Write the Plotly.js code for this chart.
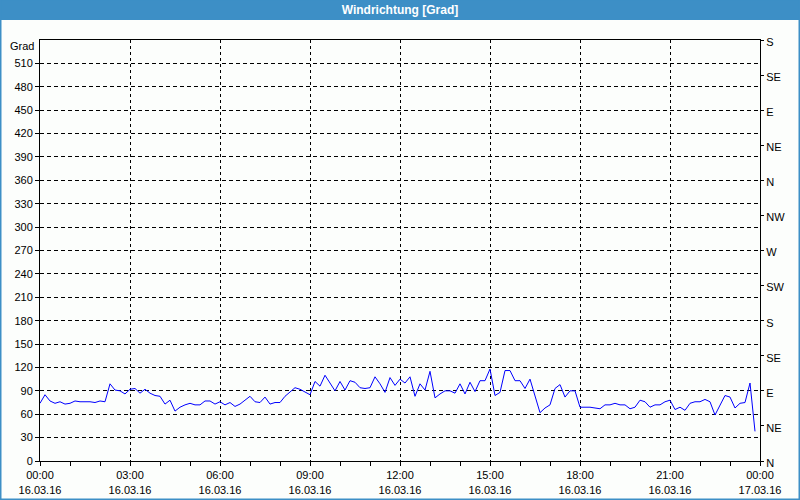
<!DOCTYPE html>
<html>
<head>
<meta charset="utf-8">
<script src="https://cdn.plot.ly/plotly-3.0.1.min.js"></script>
<style>
html,body{margin:0;padding:0;background:#fcfefc;}
#chart{width:800px;height:500px;}
</style>
</head>
<body>
<div id="chart"></div>
<script>
// ---- data ----
const startTime = '2016-03-16T00:00:00';
const stepMinutes = 10;
const windDir = [
  74, 85, 77, 74, 76, 73, 74, 77, 76, 76, 76, 75, 77, 76, 99, 91, 90, 86, 92, 93,
  87, 92, 87, 84, 83, 73, 78, 64, 69, 72, 74, 72, 72, 77, 77, 73, 76, 72, 75, 70,
  73, 78, 83, 76, 75, 82, 73, 75, 75, 83, 88, 94, 92, 89, 85, 102, 96, 110, 100, 90,
  102, 91, 103, 101, 94, 93, 94, 108, 99, 88, 107, 97, 105, 100, 108, 83, 99, 91, 115, 81,
  86, 90, 90, 87, 99, 86, 101, 89, 103, 103, 118, 84, 88, 116, 116, 103, 103, 93, 105, 84,
  62, 68, 72, 93, 98, 82, 90, 90, 69, 69, 69, 68, 67, 72, 72, 74, 72, 72, 67, 69,
  78, 76, 69, 72, 72, 76, 78, 66, 69, 65, 74, 76, 76, 79, 76, 59, 72, 84, 82, 68,
  74, 75, 100, 38
];
const xTickVals = ['2016-03-16 00:00','2016-03-16 03:00','2016-03-16 06:00','2016-03-16 09:00',
  '2016-03-16 12:00','2016-03-16 15:00','2016-03-16 18:00','2016-03-16 21:00','2016-03-17 00:00'];
const xTickText = ['00:00<br>16.03.16','03:00<br>16.03.16','06:00<br>16.03.16','09:00<br>16.03.16',
  '12:00<br>16.03.16','15:00<br>16.03.16','18:00<br>16.03.16','21:00<br>16.03.16','00:00<br>17.03.16'];
const yTickVals = [0,30,60,90,120,150,180,210,240,270,300,330,360,390,420,450,480,510];
const compassVals = [0,45,90,135,180,225,270,315,360,405,450,495,540];
const compassText = ['N','NE','E','SE','S','SW','W','NW','N','NE','E','SE','S'];

// sample times (10-minute sampling grid)
const t0 = new Date(startTime + 'Z').getTime();
const times = windDir.map((_, i) => {
  const d = new Date(t0 + i * stepMinutes * 60000);
  return d.toISOString().slice(0,19).replace('T',' ');
});

const fontFam = '"Liberation Sans", Arial, sans-serif';
const W = 720, H = 421;

const traces = [
  {x: times, y: windDir, type: 'scatter', mode: 'lines',
   line: {color: '#0000ff', width: 1}, hoverinfo: 'skip', showlegend: false},
  {x: [times[0]], y: [null], type: 'scatter', mode: 'lines', yaxis: 'y2',
   hoverinfo: 'skip', showlegend: false}
];

const layout = {
  width: 800, height: 500,
  margin: {l: 40, r: 40, t: 40, b: 39, pad: 0},
  paper_bgcolor: '#fcfefc',
  plot_bgcolor: '#fcfefc',
  font: {family: fontFam, size: 11, color: '#000'},
  showlegend: false,
  title: {text: '<b>Windrichtung [Grad]</b>', font: {family: fontFam, size: 12, color: '#ffffff'},
          x: 0.5, xanchor: 'center', y: 1 - 10/500, yanchor: 'middle', yref: 'container', xref: 'container'},
  xaxis: {
    type: 'date',
    range: ['2016-03-16 00:00', '2016-03-17 00:00'],
    tickmode: 'array', tickvals: xTickVals, ticktext: xTickText,
    ticks: 'outside', ticklen: 4, tickcolor: '#000', tickwidth: 1,
    showline: true, linecolor: '#000', linewidth: 1, mirror: true,
    showgrid: true, gridcolor: '#000', gridwidth: 1, griddash: '3px,3px',
    zeroline: false, fixedrange: true,
    tickfont: {family: fontFam, size: 11, color: '#000'},
    minor: {tickmode: 'linear', tick0: '2016-03-16 00:00', dtick: 3600000,
            ticks: 'outside', ticklen: 4, tickcolor: '#000', showgrid: false}
  },
  yaxis: {
    range: [0, 540],
    tickmode: 'array', tickvals: yTickVals,
    ticks: 'outside', ticklen: 4, tickcolor: '#000',
    showline: true, linecolor: '#000', linewidth: 1,
    showgrid: true, gridcolor: '#000', gridwidth: 1, griddash: '4px,3px',
    zeroline: false, fixedrange: true,
    tickfont: {family: fontFam, size: 11, color: '#000'}
  },
  yaxis2: {
    overlaying: 'y', side: 'right',
    range: [0, 540],
    tickmode: 'array', tickvals: compassVals, ticktext: compassText,
    ticks: 'outside', ticklen: 3, tickcolor: '#000',
    ticklabelshift: 2, ticklabelstandoff: 0,
    showline: true, linecolor: '#000', linewidth: 1,
    showgrid: false, zeroline: false, fixedrange: true,
    tickfont: {family: fontFam, size: 11, color: '#000'}
  },
  shapes: [
    {type: 'rect', xref: 'paper', yref: 'paper', layer: 'below',
     x0: -40/W, x1: 1 + 40/W, y0: 1 + 20/H, y1: 1 + 41/H,
     fillcolor: '#3d8fc6', line: {width: 0}},
    {type: 'rect', xref: 'paper', yref: 'paper', layer: 'above',
     x0: -40/W, x1: 1 + 40/W, y0: -39/H, y1: 1 + 41/H,
     fillcolor: 'rgba(0,0,0,0)', line: {color: '#3d8fc6', width: 3}}
  ],
  annotations: [
    {text: 'Grad', xref: 'paper', yref: 'paper', x: -4/W, y: 1 - 6/H,
     xanchor: 'right', yanchor: 'middle', showarrow: false,
     font: {family: fontFam, size: 11, color: '#000'}}
  ]
};

Plotly.newPlot('chart', traces, layout, {displayModeBar: false, staticPlot: true});
</script>
</body>
</html>
